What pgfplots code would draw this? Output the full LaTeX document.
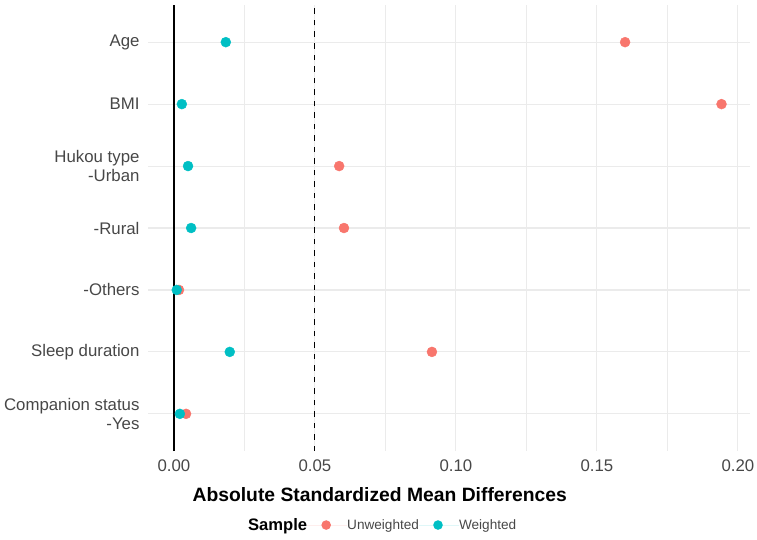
\documentclass[border=0pt]{standalone}
\usepackage{fontspec}
\setmainfont{Liberation Sans}
\usepackage{pgfplots}
\pgfplotsset{compat=1.18}

\definecolor{unw}{HTML}{F8766D}
\definecolor{wtd}{HTML}{00BFC4}
\definecolor{gridc}{HTML}{EBEBEB}
\definecolor{labc}{HTML}{474747}

% absolute standardized mean differences, rows numbered from the bottom (1) to the top (7)
\pgfplotstableread{
y  asmd
7  0.1600
6  0.1942
5  0.0586
4  0.0603
3  0.0018
2  0.0915
1  0.0043
}\unweighted
\pgfplotstableread{
y  asmd
7  0.0184
6  0.0028
5  0.0050
4  0.0061
3  0.0010
2  0.0198
1  0.0021
}\weighted

\begin{document}
\begin{tikzpicture}
\begin{axis}[
  name=a,
  scale only axis,
  width=602pt, height=446pt,
  xmin=-0.0092, xmax=0.2043,
  ymin=0.4, ymax=7.6,
  axis line style={draw=none},
  major tick length=0pt, minor tick length=0pt,
  xtick={0,0.05,0.1,0.15,0.2},
  minor xtick={0.025,0.075,0.125,0.175},
  ytick={1,2,3,4,5,6,7},
  yticklabels={{Companion status\\-Yes},{Sleep duration},{-Others},{-Rural},{Hukou type\\-Urban},{BMI},{Age}},
  xmajorgrids, xminorgrids, ymajorgrids,
  major grid style={gridc, line width=1.1pt},
  minor grid style={gridc, line width=0.6pt},
  /pgf/number format/assume math mode=true,
  xticklabel={\pgfmathprintnumber[fixed,fixed zerofill,precision=2]{\tick}},
  tick label style={font=\fontsize{16.8}{19.2}\selectfont, text=labc},
  yticklabel style={align=right, xshift=-5pt},
  xticklabel style={yshift=-5pt},
  xlabel={\textbf{Absolute Standardized Mean Differences}},
  xlabel style={font=\fontsize{19.3}{22}\selectfont, at={(axis description cs:0.385,-0.0987)}, anchor=center},
  legend columns=-1,
  legend style={at={(0.389,-0.166)}, anchor=center, draw=none, fill=none,
    font=\fontsize{13.6}{16}\selectfont, text=labc,
    nodes={inner sep=0pt},
    /tikz/every even column/.append style={column sep=0pt},
    /tikz/every odd column/.append style={column sep=0pt}},
  legend image code/.code={\path (0,0) -- (40pt,0); \fill[#1] (19pt,0) circle (4.8pt);},
  clip=false,
]
\addlegendimage{empty legend}
\addlegendentry{\fontsize{16.6}{19}\selectfont\bfseries\color{black}Sample}
% reference lines at zero and at the 0.05 threshold
\addplot[black, line width=1.6pt, forget plot] coordinates {(0,0.4) (0,7.6)};
\addplot[black, line width=1.1pt, dash pattern=on 5.5pt off 6pt, forget plot] coordinates {(0.05,0.4) (0.05,7.6)};
\addplot[only marks, mark=*, mark size=5pt, color=unw, draw=none, fill=unw] table[x=asmd, y=y] {\unweighted};
\addlegendentry{Unweighted}
\addplot[only marks, mark=*, mark size=5pt, color=wtd, draw=none, fill=wtd] table[x=asmd, y=y] {\weighted};
\addlegendentry{Weighted}
\end{axis}
\pgfresetboundingbox
\path (a.south west) ++(-148pt,-88pt) rectangle ++(757pt,539pt);
\end{tikzpicture}
\end{document}
